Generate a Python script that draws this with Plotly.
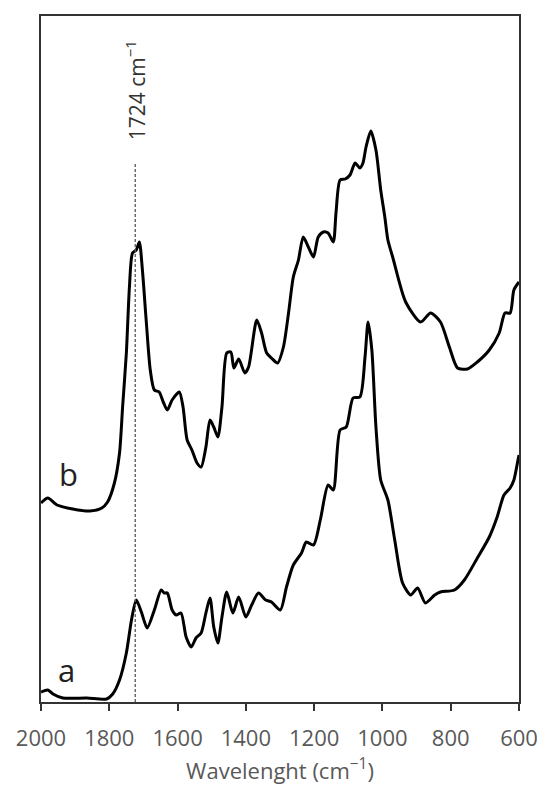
import plotly.graph_objects as go

# Wavenumber (cm-1) and absorbance (arbitrary units)
wn_b = [2000, 1980, 1953, 1907, 1857, 1822, 1805, 1785, 1770, 1761, 1750, 1741, 1732, 1721,
        1712, 1703, 1692, 1680, 1668, 1654, 1642, 1630, 1616, 1595, 1584, 1572, 1558, 1543,
        1531, 1517, 1505, 1494, 1482, 1470, 1456, 1444, 1435, 1421, 1403, 1392, 1368, 1354,
        1339, 1325, 1307, 1290, 1275, 1261, 1246, 1232, 1217, 1202, 1188, 1173, 1159, 1144,
        1136, 1124, 1109, 1095, 1080, 1066, 1057, 1048, 1034, 1019, 1005, 993, 984, 970,
        932, 888, 859, 830, 804, 780, 751, 722, 687, 658, 641, 626, 615, 600]
abs_b = [199, 204, 197, 193, 191, 194, 200, 219, 249, 295, 349, 415, 449, 452,
         460, 432, 382, 332, 312, 310, 300, 292, 302, 310, 295, 262, 252, 239,
         235, 255, 282, 275, 265, 295, 349, 350, 334, 343, 329, 335, 382, 369,
         349, 344, 339, 355, 389, 425, 442, 465, 455, 445, 465, 470, 469, 460,
         489, 522, 523, 527, 539, 534, 539, 555, 571, 552, 512, 485, 462, 445,
         400, 380, 389, 380, 355, 334, 333, 340, 352, 369, 389, 389, 412, 420]

wn_a = [2000, 1980, 1965, 1936, 1866, 1808, 1790, 1770, 1750, 1735, 1721, 1706, 1689, 1668,
        1648, 1639, 1630, 1616, 1604, 1590, 1575, 1560, 1546, 1531, 1517, 1505, 1494, 1482,
        1470, 1456, 1438, 1421, 1400, 1383, 1363, 1342, 1325, 1299, 1281, 1261, 1237, 1223,
        1202, 1182, 1159, 1144, 1124, 1106, 1086, 1066, 1051, 1042, 1031, 1019, 1005, 984,
        964, 941, 917, 897, 874, 847, 830, 789, 760, 722, 687, 664, 644, 626, 615, 603, 600]
abs_a = [10, 12, 8, 4, 4, 3, 8, 22, 49, 82, 102, 90, 74, 92,
         112, 109, 109, 92, 87, 89, 65, 55, 64, 69, 89, 104, 75, 59,
         85, 110, 89, 105, 85, 97, 109, 102, 100, 92, 115, 137, 149, 160,
         157, 182, 217, 212, 272, 275, 304, 305, 345, 380, 352, 275, 222, 202,
         162, 119, 107, 114, 99, 107, 110, 112, 122, 144, 165, 185, 207, 214, 222, 242, 247]

x_ticks = [2000, 1800, 1600, 1400, 1200, 1000, 800, 600]
marker_wn = 1724
marker_label = "1724 cm<sup>−1</sup>"

fig = go.Figure()
line_style = dict(color="black", width=3, shape="spline", smoothing=0.7)
fig.add_trace(go.Scatter(x=wn_a, y=abs_a, mode="lines", line=line_style, showlegend=False))
fig.add_trace(go.Scatter(x=wn_b, y=abs_b, mode="lines", line=line_style, showlegend=False))

fig.add_shape(type="line", x0=marker_wn, x1=marker_wn, y0=0, y1=539, xref="x", yref="y",
              line=dict(color="#555555", width=1.3, dash="3px,2px"))

fig.add_annotation(x=marker_wn, y=612, text=marker_label, textangle=-90, showarrow=False,
                   font=dict(family="Open Sans", size=21, color="#333333"),
                   xanchor="center", yanchor="middle")
fig.add_annotation(x=1920, y=228, text="b", showarrow=False,
                   font=dict(family="Open Sans", size=31, color="#222222"),
                   xanchor="center", yanchor="middle")
fig.add_annotation(x=1925, y=32, text="a", showarrow=False,
                   font=dict(family="Open Sans", size=31, color="#222222"),
                   xanchor="center", yanchor="middle")

fig.update_xaxes(range=[2000, 600], tickvals=x_ticks, ticks="outside", ticklen=7, tickwidth=1.5,
                 tickcolor="#333333", showline=True, linecolor="#333333", linewidth=1.5,
                 mirror=True, showgrid=False, zeroline=False, ticklabelstandoff=9,
                 tickfont=dict(family="Open Sans", size=22, color="#595959"),
                 title=dict(text="Wavelenght (cm<sup>−1</sup>)", standoff=12,
                            font=dict(family="Open Sans", size=22, color="#595959")))
fig.update_yaxes(range=[0, 686], showticklabels=False, ticks="", showline=True,
                 linecolor="#333333", linewidth=1.5, mirror=True, showgrid=False, zeroline=False)

fig.update_layout(width=550, height=798, margin=dict(l=41, r=28, t=16, b=96),
                  plot_bgcolor="white", paper_bgcolor="white")

fig.write_html("out.html", config={"displayModeBar": False},
               post_script="document.body.style.margin='0';")
